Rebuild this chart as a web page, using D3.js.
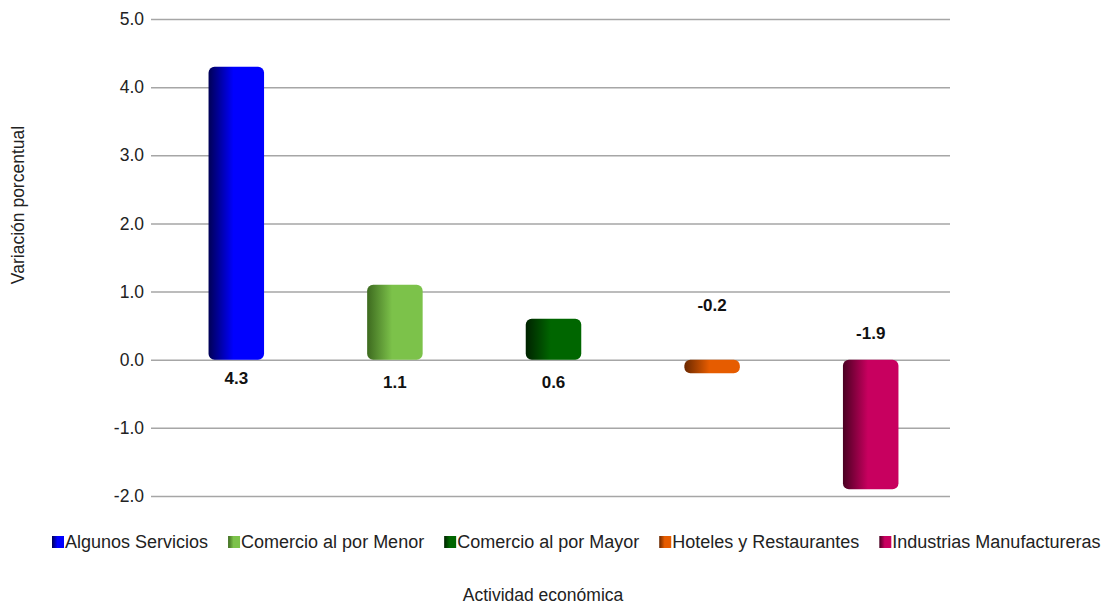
<!DOCTYPE html>
<html><head><meta charset="utf-8">
<script src="https://cdn.jsdelivr.net/npm/d3@7"></script>
<style>body{margin:0;background:#fff}svg{display:block}</style>
</head><body>
<svg id="c" width="1105" height="604"></svg>
<script>
const categories = ["Algunos Servicios","Comercio al por Menor","Comercio al por Mayor","Hoteles y Restaurantes","Industrias Manufactureras"];
const values = [4.3, 1.1, 0.6, -0.2, -1.9];
const tickValues = [-2,-1,0,1,2,3,4,5];
const colors = ["#0000ff","#7cc24a","#006600","#e65c00","#c8005f"];
const darkColors = ["#000055","#3d6a1f","#002200","#6a2800","#4a0022"];
const labelDy = [18, 22, 22, -55, -27];

const svg = d3.select("#c");
const font = "Liberation Sans, Arial, sans-serif";
const L = 157, R = 950, T = 19, B = 496;
const x = d3.scaleBand().domain(categories).range([L, R]).paddingInner(0.65).paddingOuter(0.325);
const y = d3.scaleLinear().domain([-2, 5]).range([B, T]);
const fmt = d => d3.format(".1f")(d).replace("\u2212","-");

const defs = svg.append("defs");
categories.forEach((c,i)=>{
  const g = defs.append("linearGradient").attr("id","g"+i).attr("x1","0").attr("x2","1").attr("y1","0").attr("y2","0");
  g.append("stop").attr("offset","0%").attr("stop-color",darkColors[i]);
  g.append("stop").attr("offset","45%").attr("stop-color",colors[i]);
  g.append("stop").attr("offset","100%").attr("stop-color",colors[i]);
});

// grid
const axis = d3.axisLeft(y).tickValues(tickValues).tickFormat(fmt).tickSize(-(R-L)).tickPadding(13);
const ga = svg.append("g").attr("transform",`translate(${L},0)`).call(axis);
ga.select(".domain").remove();
ga.selectAll(".tick line").attr("stroke","#a6a6a6").attr("stroke-width",1.5).attr("x1",-6);
ga.selectAll(".tick text").attr("font-family",font).attr("font-size",17.5).attr("fill","#222");

// bars
svg.append("g").selectAll("rect").data(values).join("rect")
  .attr("x",(d,i)=>x(categories[i]))
  .attr("width",x.bandwidth())
  .attr("y",d=>y(Math.max(0,d)))
  .attr("height",d=>Math.abs(y(d)-y(0)))
  .attr("rx",6).attr("ry",6)
  .attr("fill",(d,i)=>`url(#g${i})`);

// labels
svg.append("g").selectAll("text").data(values).join("text")
  .attr("x",(d,i)=>x(categories[i])+x.bandwidth()/2)
  .attr("y",(d,i)=>y(0)+labelDy[i])
  .attr("dy","0.35em")
  .attr("text-anchor","middle")
  .attr("font-family",font).attr("font-size",17).attr("font-weight","bold").attr("fill","#111")
  .text(d=>fmt(d));

// y title
svg.append("text").attr("transform","translate(24,205) rotate(-90)")
  .attr("text-anchor","middle").attr("font-family",font).attr("font-size",17.5).attr("fill","#222")
  .text("Variación porcentual");

// x title
svg.append("text").attr("x",543).attr("y",601).attr("text-anchor","middle")
  .attr("font-family",font).attr("font-size",17.5).attr("fill","#222").text("Actividad económica");

// legend
const lg = svg.append("g");
let lx = 52;
categories.forEach((c,i)=>{
  const item = lg.append("g");
  item.append("rect").attr("x",lx).attr("y",536).attr("width",12).attr("height",12).attr("fill",`url(#g${i})`);
  const t = item.append("text").attr("x",lx+13).attr("y",542).attr("dy","0.35em")
    .attr("font-family",font).attr("font-size",18).attr("fill","#222").text(c);
  lx += 13 + t.node().getComputedTextLength() + 20;
});
</script>
</body></html>
